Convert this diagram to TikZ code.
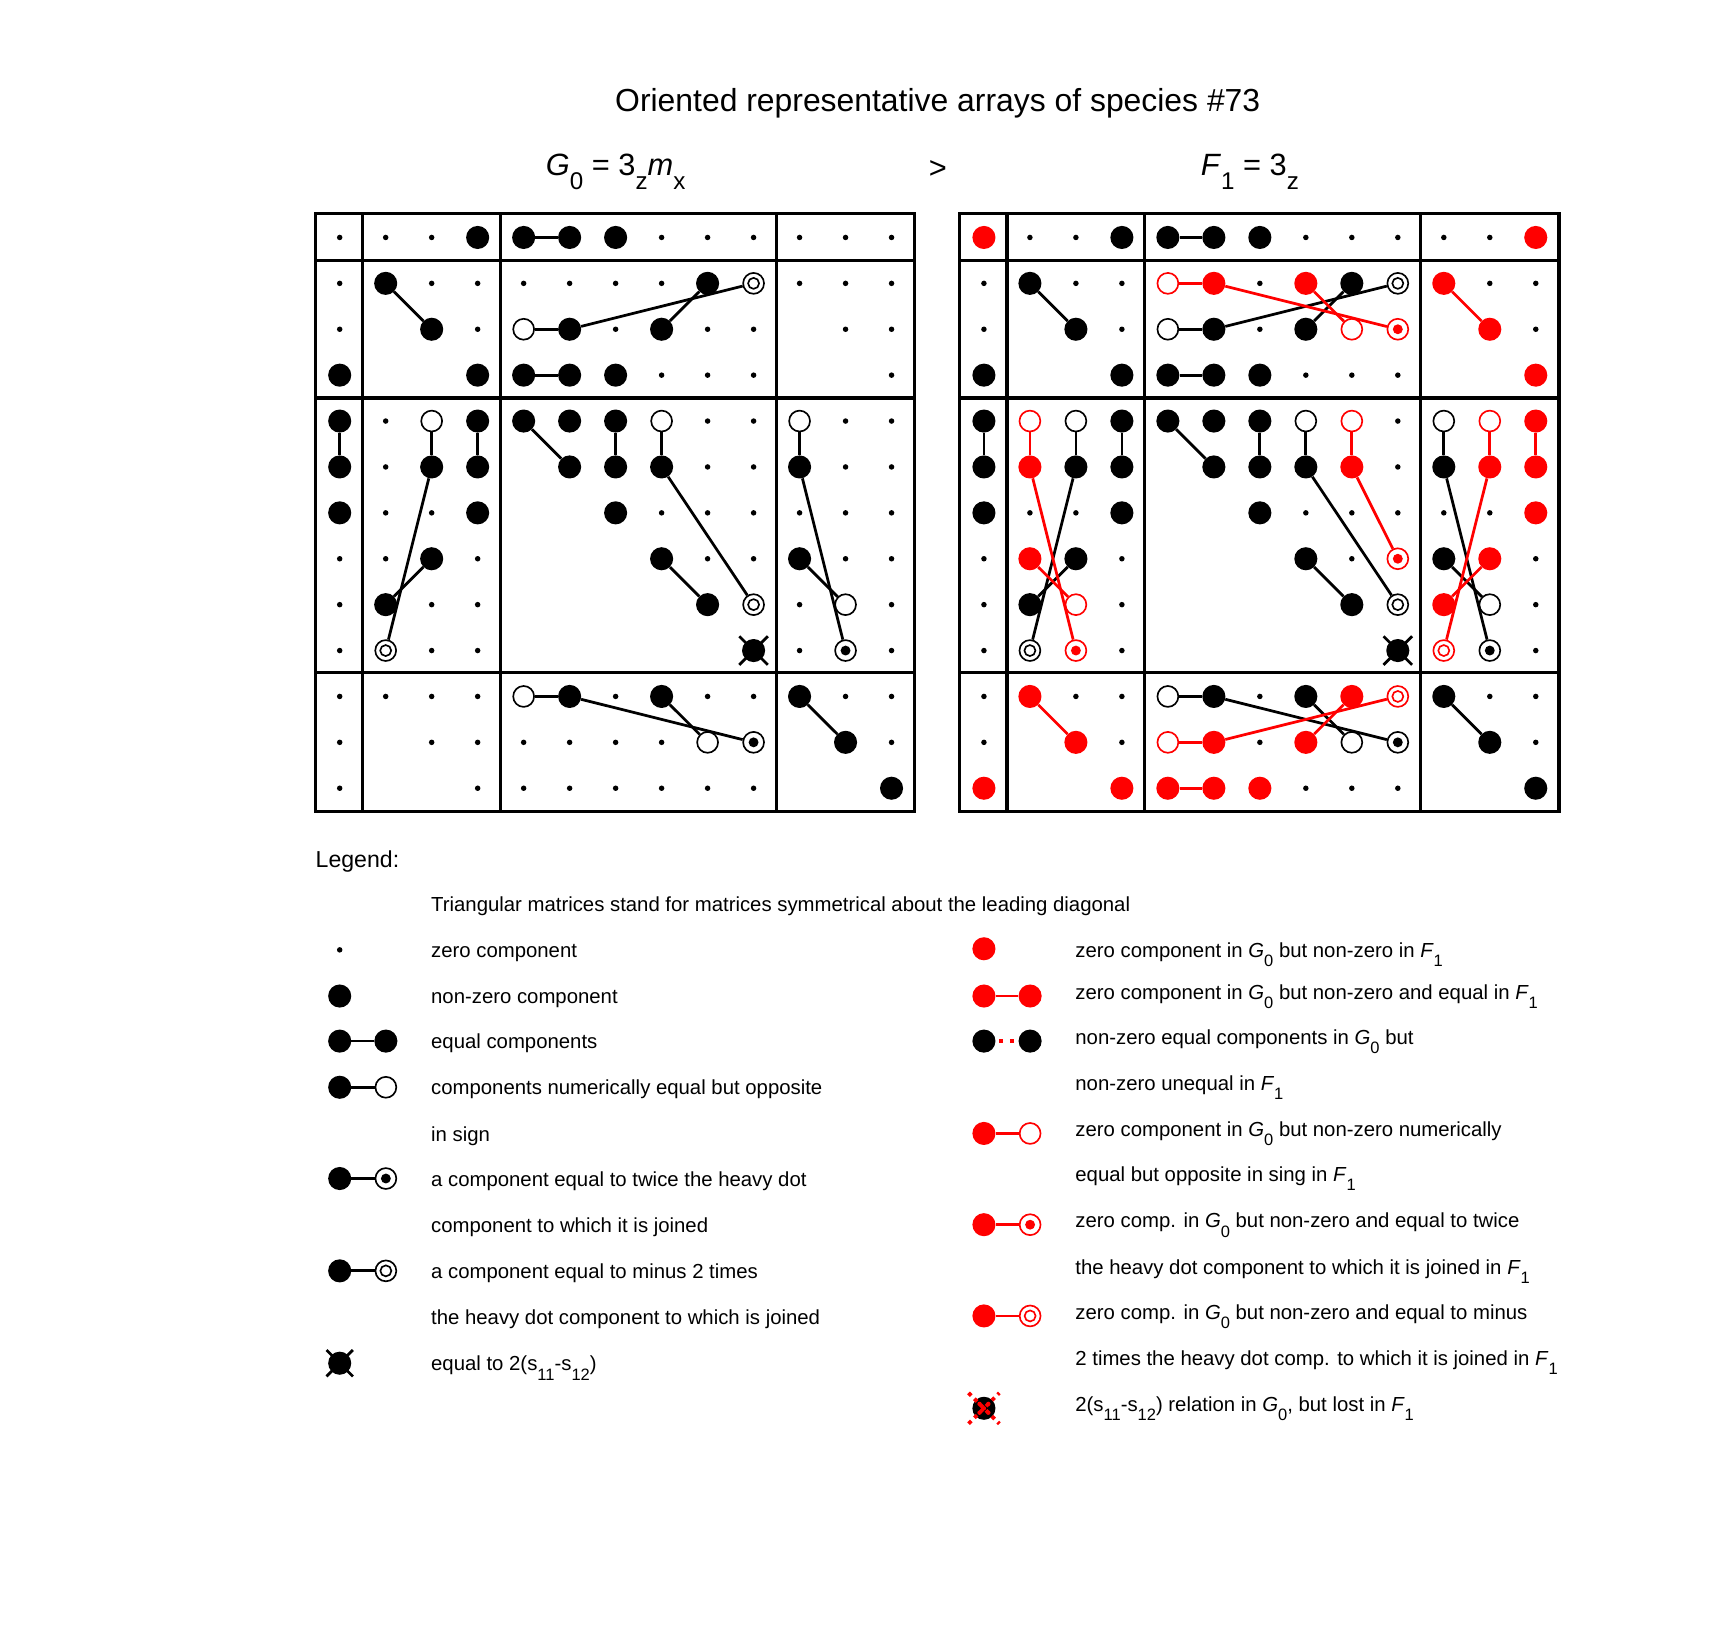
\documentclass[tikz,border=0pt]{standalone}
\usepackage{fontspec}
\setmainfont{Liberation Sans}
\newcommand\lsub[1]{\raisebox{-0.45em}{\fontsize{15}{15}\selectfont #1}}
\newcommand\tsub[1]{\raisebox{-0.45em}{\fontsize{22}{22}\selectfont #1}}
\begin{document}
\begin{tikzpicture}[x=1pt,y=-1pt,
  zd/.style={circle,fill,inner sep=0,minimum size=5},
  nd/.style={circle,fill,inner sep=0,minimum size=21},
  rnd/.style={nd,red},
  od/.style={circle,draw,fill=white,line width=1.5,inner sep=0,minimum size=19},
  rod/.style={od,draw=red},
  td/.style={od,draw=#1,path picture={\fill[#1] (path picture bounding box.center) circle (4.5);}},
  td/.default=black,
  rtd/.style={td=red},
  md/.style={od,draw=#1,path picture={\draw[#1,line width=1.5] (path picture bounding box.center) circle (5);}},
  md/.default=black,
  rmd/.style={md=red},
  xd/.style={nd},
  conn/.style={line width=2.5},
  rconn/.style={conn,red},
  grid/.style={line width=3},
  lt/.style={anchor=base west,font=\fontsize{18.5}{22}\selectfont,inner sep=0}
]
\useasboundingbox (0,0) rectangle (1560,1479);
% title
\node[font=\fontsize{29}{34}\selectfont] (title) at (853,94) {Oriented representative arrays of species \#73};
\node[font=\fontsize{28}{34}\selectfont,anchor=base] (g0) at (560,160) {\textit{G}\tsub{0} = 3\tsub{z}\textit{m}\tsub{x}};
\node[font=\fontsize{28}{34}\selectfont,anchor=base] (gt) at (853,162) {>};
\node[font=\fontsize{28}{34}\selectfont,anchor=base] (f1) at (1137,160) {\textit{F}\tsub{1} = 3\tsub{z}};
% grids
\foreach \o in {0,586}{
  \draw[grid] (287+\o,194) rectangle (832+\o,738);
  \foreach \xx in {330,455,706} \draw[grid] (\xx+\o,194) -- (\xx+\o,738);
  \foreach \yy in {237,362,612} \draw[grid] (287+\o,\yy) -- (832+\o,\yy);
}
% left matrix G0
\foreach \r/\c/\t in {
1/1/zd,1/2/zd,1/3/zd,1/4/nd,1/5/nd,1/6/nd,1/7/nd,1/8/zd,1/9/zd,1/10/zd,1/11/zd,1/12/zd,1/13/zd,
2/1/zd,2/2/nd,2/3/zd,2/4/zd,2/5/zd,2/6/zd,2/7/zd,2/8/zd,2/9/nd,2/10/md,2/11/zd,2/12/zd,2/13/zd,
3/1/zd,3/3/nd,3/4/zd,3/5/od,3/6/nd,3/7/zd,3/8/nd,3/9/zd,3/10/zd,3/12/zd,3/13/zd,
4/1/nd,4/4/nd,4/5/nd,4/6/nd,4/7/nd,4/8/zd,4/9/zd,4/10/zd,4/13/zd,
5/1/nd,5/2/zd,5/3/od,5/4/nd,5/5/nd,5/6/nd,5/7/nd,5/8/od,5/9/zd,5/10/zd,5/11/od,5/12/zd,5/13/zd,
6/1/nd,6/2/zd,6/3/nd,6/4/nd,6/6/nd,6/7/nd,6/8/nd,6/9/zd,6/10/zd,6/11/nd,6/12/zd,6/13/zd,
7/1/nd,7/2/zd,7/3/zd,7/4/nd,7/7/nd,7/8/zd,7/9/zd,7/10/zd,7/11/zd,7/12/zd,7/13/zd,
8/1/zd,8/2/zd,8/3/nd,8/4/zd,8/8/nd,8/9/zd,8/10/zd,8/11/nd,8/12/zd,8/13/zd,
9/1/zd,9/2/nd,9/3/zd,9/4/zd,9/9/nd,9/10/md,9/11/zd,9/12/od,9/13/zd,
10/1/zd,10/2/md,10/3/zd,10/4/zd,10/10/xd,10/11/zd,10/12/td,10/13/zd,
11/1/zd,11/2/zd,11/3/zd,11/4/zd,11/5/od,11/6/nd,11/7/zd,11/8/nd,11/9/zd,11/10/zd,11/11/nd,11/12/zd,11/13/zd,
12/1/zd,12/3/zd,12/4/zd,12/5/zd,12/6/zd,12/7/zd,12/8/zd,12/9/od,12/10/td,12/12/nd,12/13/zd,
13/1/zd,13/4/zd,13/5/zd,13/6/zd,13/7/zd,13/8/zd,13/9/zd,13/10/zd,13/13/nd}
  \node[\t] (L-\r-\c) at ({309+41.83*(\c-1)},{216+41.75*(\r-1)}) {};
% right matrix F1
\foreach \r/\c/\t in {
1/1/rnd,1/2/zd,1/3/zd,1/4/nd,1/5/nd,1/6/nd,1/7/nd,1/8/zd,1/9/zd,1/10/zd,1/11/zd,1/12/zd,1/13/rnd,
2/1/zd,2/2/nd,2/3/zd,2/4/zd,2/5/rod,2/6/rnd,2/7/zd,2/8/rnd,2/9/nd,2/10/md,2/11/rnd,2/12/zd,2/13/zd,
3/1/zd,3/3/nd,3/4/zd,3/5/od,3/6/nd,3/7/zd,3/8/nd,3/9/rod,3/10/rtd,3/12/rnd,3/13/zd,
4/1/nd,4/4/nd,4/5/nd,4/6/nd,4/7/nd,4/8/zd,4/9/zd,4/10/zd,4/13/rnd,
5/1/nd,5/2/rod,5/3/od,5/4/nd,5/5/nd,5/6/nd,5/7/nd,5/8/od,5/9/rod,5/10/zd,5/11/od,5/12/rod,5/13/rnd,
6/1/nd,6/2/rnd,6/3/nd,6/4/nd,6/6/nd,6/7/nd,6/8/nd,6/9/rnd,6/10/zd,6/11/nd,6/12/rnd,6/13/rnd,
7/1/nd,7/2/zd,7/3/zd,7/4/nd,7/7/nd,7/8/zd,7/9/zd,7/10/zd,7/11/zd,7/12/zd,7/13/rnd,
8/1/zd,8/2/rnd,8/3/nd,8/4/zd,8/8/nd,8/9/zd,8/10/rtd,8/11/nd,8/12/rnd,8/13/zd,
9/1/zd,9/2/nd,9/3/rod,9/4/zd,9/9/nd,9/10/md,9/11/rnd,9/12/od,9/13/zd,
10/1/zd,10/2/md,10/3/rtd,10/4/zd,10/10/xd,10/11/rmd,10/12/td,10/13/zd,
11/1/zd,11/2/rnd,11/3/zd,11/4/zd,11/5/od,11/6/nd,11/7/zd,11/8/nd,11/9/rnd,11/10/rmd,11/11/nd,11/12/zd,11/13/zd,
12/1/zd,12/3/rnd,12/4/zd,12/5/rod,12/6/rnd,12/7/zd,12/8/rnd,12/9/od,12/10/td,12/12/nd,12/13/zd,
13/1/rnd,13/4/rnd,13/5/rnd,13/6/rnd,13/7/rnd,13/8/zd,13/9/zd,13/10/zd,13/13/nd}
  \node[\t] (R-\r-\c) at ({895+41.83*(\c-1)},{216+41.75*(\r-1)}) {};
% crosses
\foreach \n in {L-10-10,R-10-10}
  \draw[line width=2.5] (\n.center) ++(-13,-13) -- ++(26,26) ++(-26,0) -- ++(26,-26);
% connectors G0
\foreach \a/\b in {1-5/1-6,2-2/3-3,3-5/3-6,3-6/2-10,3-8/2-9,4-5/4-6,
  5-1/6-1,5-3/6-3,5-4/6-4,6-3/10-2,8-3/9-2,5-5/6-6,5-7/6-7,5-8/6-8,6-8/9-10,8-8/9-9,
  5-11/6-11,6-11/10-12,8-11/9-12,11-5/11-6,11-6/12-10,11-8/12-9,11-11/12-12}
  \draw[conn] (L-\a) -- (L-\b);
% connectors F1 black
\foreach \a/\b in {1-5/1-6,2-2/3-3,3-5/3-6,3-6/2-10,3-8/2-9,4-5/4-6,
  5-1/6-1,5-3/6-3,5-4/6-4,6-3/10-2,8-3/9-2,5-5/6-6,5-7/6-7,5-8/6-8,6-8/9-10,8-8/9-9,
  5-11/6-11,6-11/10-12,8-11/9-12,11-5/11-6,11-6/12-10,11-8/12-9,11-11/12-12}
  \draw[conn] (R-\a) -- (R-\b);
% connectors F1 red
\foreach \a/\b in {2-5/2-6,2-6/3-10,2-8/3-9,2-11/3-12,
  5-2/6-2,6-2/10-3,8-2/9-3,5-9/6-9,6-9/8-10,5-12/6-12,6-12/10-11,8-12/9-11,5-13/6-13,
  11-2/12-3,11-9/12-8,12-6/11-10,12-5/12-6,13-5/13-6}
  \draw[rconn] (R-\a) -- (R-\b);
% legend
\node[anchor=base west,font=\fontsize{21}{24}\selectfont,inner sep=0] (leg) at (287,789) {Legend:};
\node[lt] (t0) at (392,829) {Triangular matrices stand for matrices symmetrical about the leading diagonal};
% left legend symbols
\node[zd] (s1) at (309,864) {};
\node[nd] (s2) at (309,906) {};
\node[nd] (s3a) at (309,947) {}; \node[nd] (s3b) at (351,947) {};
\node[nd] (s4a) at (309,989) {}; \node[od] (s4b) at (351,989) {};
\node[nd] (s5a) at (309,1072) {}; \node[td] (s5b) at (351,1072) {};
\node[nd] (s6a) at (309,1156) {}; \node[md] (s6b) at (351,1156) {};
\node[xd] (s7) at (309,1240) {};
\draw[line width=2.5] (s7.center) ++(-12,-12) -- ++(24,24) ++(-24,0) -- ++(24,-24);
\draw[conn] (s3a) -- (s3b); \draw[conn] (s4a) -- (s4b);
\draw[conn] (s5a) -- (s5b); \draw[conn] (s6a) -- (s6b);
\node[lt] at (392,871) {zero component};
\node[lt] at (392,913) {non-zero component};
\node[lt] at (392,954) {equal components};
\node[lt] at (392,996) {components numerically equal but opposite};
\node[lt] at (392,1038) {in sign};
\node[lt] at (392,1079) {a component equal to twice the heavy dot};
\node[lt] at (392,1121) {component to which it is joined};
\node[lt] at (392,1163) {a component equal to minus 2 times};
\node[lt] at (392,1205) {the heavy dot component to which is joined};
\node[lt] at (392,1247) {equal to 2(s\lsub{11}-s\lsub{12})};
% right legend symbols
\node[rnd] (q1) at (895,863) {};
\node[rnd] (q2a) at (895,906) {}; \node[rnd] (q2b) at (937,906) {};
\node[nd] (q3a) at (895,947) {}; \node[nd] (q3b) at (937,947) {};
\node[rnd] (q4a) at (895,1031) {}; \node[rod] (q4b) at (937,1031) {};
\node[rnd] (q5a) at (895,1114) {}; \node[rtd] (q5b) at (937,1114) {};
\node[rnd] (q6a) at (895,1197) {}; \node[rmd] (q6b) at (937,1197) {};
\draw[rconn] (q2a) -- (q2b);
\draw[red,line width=4,dash pattern=on 4pt off 6pt] ([xshift=3pt]q3a.east) -- (q3b);
\draw[rconn] (q4a) -- (q4b); \draw[rconn] (q5a) -- (q5b); \draw[rconn] (q6a) -- (q6b);
\node[nd] (q7) at (895,1281) {};
\draw[red,line width=3.5,dash pattern=on 3.5pt off 4pt] (q7.center) ++(-14,-14) -- ++(28,28) ++(-28,0) -- ++(28,-28);
\foreach \dx/\dy in {-4/-4,4/-4,-4/4,4/4,0/0} \fill[red] (q7.center) ++(\dx,\dy) circle (2);
\node[lt] at (978,871) {zero component in \textit{G}\lsub{0} but non-zero in \textit{F}\lsub{1}};
\node[lt] at (978,909) {zero component in \textit{G}\lsub{0} but non-zero and equal in \textit{F}\lsub{1}};
\node[lt] at (978,950) {non-zero equal components in \textit{G}\lsub{0} but};
\node[lt] at (978,992) {non-zero unequal in \textit{F}\lsub{1}};
\node[lt] at (978,1034) {zero component in \textit{G}\lsub{0} but non-zero numerically};
\node[lt] at (978,1075) {equal but opposite in sing in \textit{F}\lsub{1}};
\node[lt] at (978,1117) {zero comp. in \textit{G}\lsub{0} but non-zero and equal to twice};
\node[lt] at (978,1159) {the heavy dot component to which it is joined in \textit{F}\lsub{1}};
\node[lt] at (978,1200) {zero comp. in \textit{G}\lsub{0} but non-zero and equal to minus};
\node[lt] at (978,1242) {2 times the heavy dot comp. to which it is joined in \textit{F}\lsub{1}};
\node[lt] at (978,1284) {2(s\lsub{11}-s\lsub{12}) relation in \textit{G}\lsub{0}, but lost in \textit{F}\lsub{1}};
\end{tikzpicture}
\end{document}
